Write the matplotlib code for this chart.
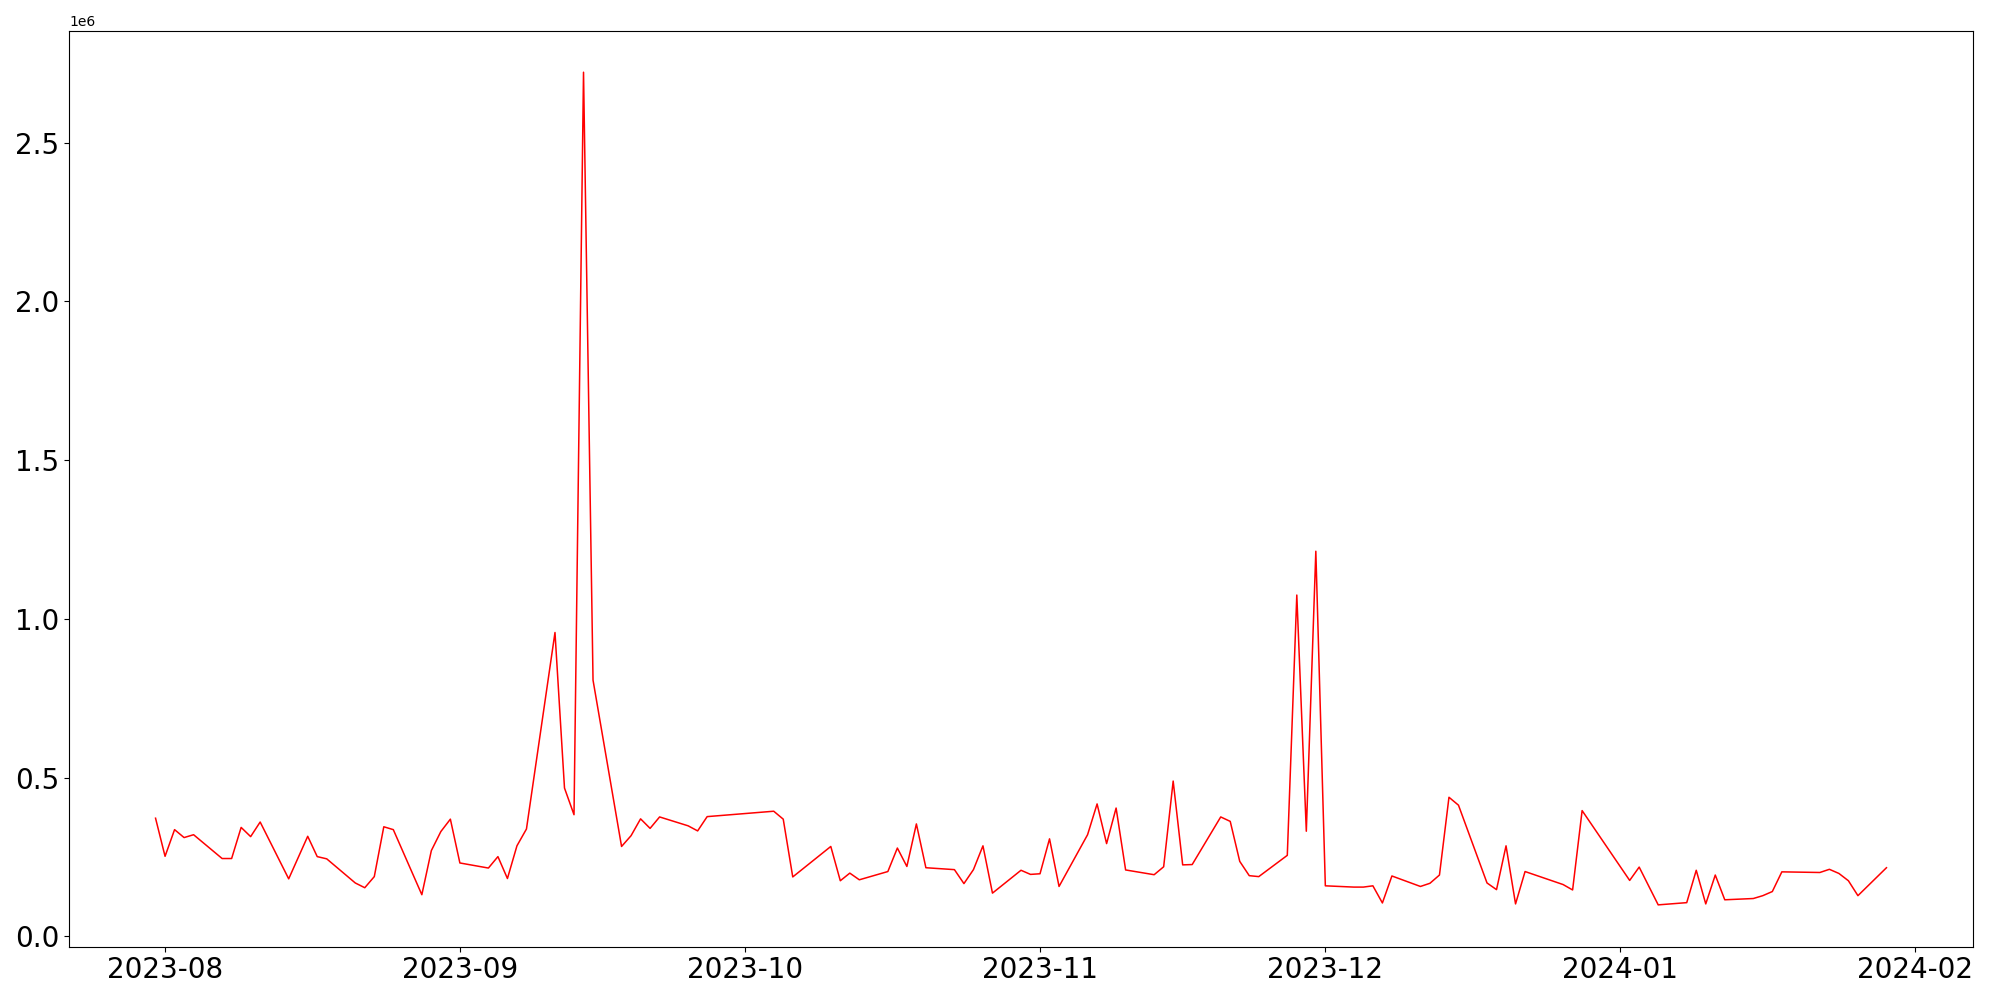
#!/usr/bin/env python3
"""Daily volume line chart, Jul 2023 - Jan 2024."""

import matplotlib

matplotlib.use("Agg")
import matplotlib.pyplot as plt
import numpy as np

dates = [
    "2023-07-31", "2023-08-01", "2023-08-02", "2023-08-03", "2023-08-04",
    "2023-08-07", "2023-08-08", "2023-08-09", "2023-08-10", "2023-08-11",
    "2023-08-14", "2023-08-16", "2023-08-17", "2023-08-18",
    "2023-08-21", "2023-08-22", "2023-08-23", "2023-08-24", "2023-08-25",
    "2023-08-28", "2023-08-29", "2023-08-30", "2023-08-31", "2023-09-01",
    "2023-09-04", "2023-09-05", "2023-09-06", "2023-09-07", "2023-09-08",
    "2023-09-11", "2023-09-12", "2023-09-13", "2023-09-14", "2023-09-15",
    "2023-09-18", "2023-09-19", "2023-09-20", "2023-09-21", "2023-09-22",
    "2023-09-25", "2023-09-26", "2023-09-27",
    "2023-10-04", "2023-10-05", "2023-10-06",
    "2023-10-10", "2023-10-11", "2023-10-12", "2023-10-13",
    "2023-10-16", "2023-10-17", "2023-10-18", "2023-10-19", "2023-10-20",
    "2023-10-23", "2023-10-24", "2023-10-25", "2023-10-26", "2023-10-27",
    "2023-10-30", "2023-10-31", "2023-11-01", "2023-11-02", "2023-11-03",
    "2023-11-06", "2023-11-07", "2023-11-08", "2023-11-09", "2023-11-10",
    "2023-11-13", "2023-11-14", "2023-11-15", "2023-11-16", "2023-11-17",
    "2023-11-20", "2023-11-21", "2023-11-22", "2023-11-23", "2023-11-24",
    "2023-11-27", "2023-11-28", "2023-11-29", "2023-11-30", "2023-12-01",
    "2023-12-04", "2023-12-05", "2023-12-06", "2023-12-07", "2023-12-08",
    "2023-12-11", "2023-12-12", "2023-12-13", "2023-12-14", "2023-12-15",
    "2023-12-18", "2023-12-19", "2023-12-20", "2023-12-21", "2023-12-22",
    "2023-12-26", "2023-12-27", "2023-12-28",
    "2024-01-02", "2024-01-03", "2024-01-05",
    "2024-01-08", "2024-01-09", "2024-01-10", "2024-01-11", "2024-01-12",
    "2024-01-15", "2024-01-16", "2024-01-17", "2024-01-18",
    "2024-01-22", "2024-01-23", "2024-01-24", "2024-01-25", "2024-01-26",
    "2024-01-29",
]

# values in millions
volume_m = [
    0.372, 0.252, 0.336, 0.311, 0.320,
    0.245, 0.245, 0.343, 0.314, 0.360,
    0.181, 0.315, 0.251, 0.244,
    0.168, 0.153, 0.188, 0.345, 0.336,
    0.131, 0.270, 0.330, 0.369, 0.231,
    0.215, 0.251, 0.182, 0.285, 0.338,
    0.957, 0.467, 0.383, 2.722, 0.807,
    0.283, 0.317, 0.370, 0.340, 0.376,
    0.348, 0.332, 0.377,
    0.394, 0.369, 0.187,
    0.283, 0.175, 0.199, 0.178,
    0.204, 0.278, 0.220, 0.354, 0.216,
    0.210, 0.166, 0.210, 0.285, 0.136,
    0.208, 0.195, 0.197, 0.307, 0.157,
    0.320, 0.417, 0.292, 0.404, 0.209,
    0.194, 0.219, 0.489, 0.225, 0.226,
    0.376, 0.362, 0.236, 0.191, 0.188,
    0.255, 1.075, 0.331, 1.213, 0.159,
    0.155, 0.155, 0.159, 0.105, 0.190,
    0.157, 0.167, 0.193, 0.438, 0.413,
    0.168, 0.147, 0.285, 0.102, 0.204,
    0.163, 0.146, 0.396,
    0.176, 0.218, 0.099,
    0.106, 0.208, 0.102, 0.193, 0.115,
    0.119, 0.128, 0.141, 0.203,
    0.201, 0.211, 0.198, 0.175, 0.128,
    0.216,
]


def main() -> None:
    x = np.array(dates, dtype="datetime64[D]")
    y = np.array(volume_m) * 1e6

    fig, ax = plt.subplots(figsize=(20, 10), dpi=100)
    ax.plot(x, y, color="red", linewidth=1.1)

    ax.tick_params(axis="both", labelsize=20)
    fig.subplots_adjust(left=0.0345, right=0.9865, top=0.9694, bottom=0.0535)
    fig.savefig("out.png")
    plt.close(fig)


if __name__ == "__main__":
    main()
